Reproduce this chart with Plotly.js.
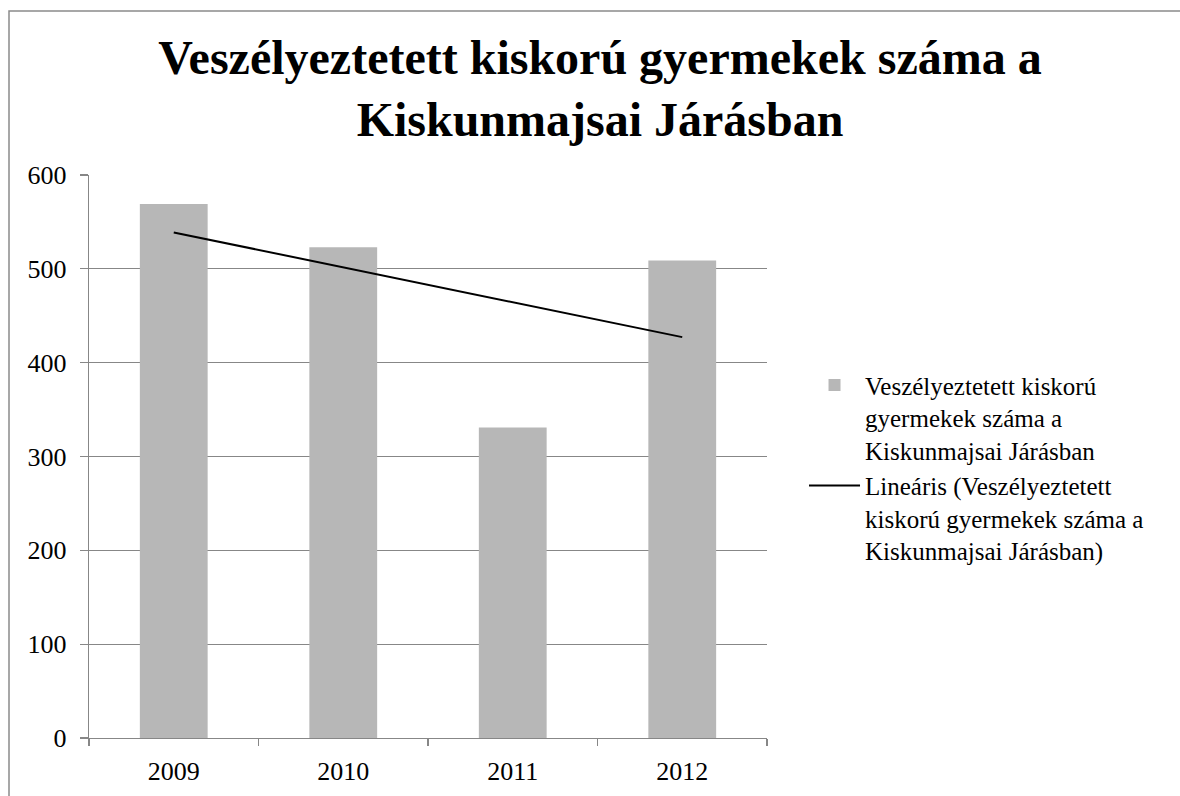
<!DOCTYPE html>
<html>
<head>
<meta charset="utf-8">
<script src="https://cdn.plot.ly/plotly-3.0.1.min.js"></script>
<style>
  html, body { margin: 0; padding: 0; background: #ffffff; }
  #chart { width: 1180px; height: 796px; }
</style>
</head>
<body>
<div id="chart"></div>
<script>
// ---- Data ----
var years = ['2009', '2010', '2011', '2012'];
var children = [569, 523, 331, 509];
var seriesName = 'Veszélyeztetett kiskorú<br>gyermekek száma a<br>Kiskunmajsai Járásban';
var trendName = 'Lineáris (Veszélyeztetett<br>kiskorú gyermekek száma a<br>Kiskunmajsai Járásban)';
var titleText = 'Veszélyeztetett kiskorú gyermekek száma a<br>Kiskunmajsai Járásban';
var yTicks = [0, 100, 200, 300, 400, 500, 600];

// Linear trendline (least squares on the series, as the spreadsheet does)
var n = children.length;
var xs = children.map(function (_, i) { return i + 1; });
var mx = xs.reduce(function (a, b) { return a + b; }, 0) / n;
var my = children.reduce(function (a, b) { return a + b; }, 0) / n;
var sxy = 0, sxx = 0;
for (var i = 0; i < n; i++) { sxy += (xs[i] - mx) * (children[i] - my); sxx += (xs[i] - mx) * (xs[i] - mx); }
var slope = sxy / sxx, intercept = my - slope * mx;
var trend = xs.map(function (x) { return intercept + slope * x; });

var font = '"Liberation Serif", "Times New Roman", serif';
var grey = '#878787';

var traces = [
  {
    type: 'bar', x: years, y: children, name: seriesName,
    marker: { color: '#b7b7b7', line: { width: 0 } },
    width: 0.4, hoverinfo: 'x+y'
  },
  {
    type: 'scatter', mode: 'lines', x: years, y: trend, name: trendName,
    line: { color: '#000000', width: 2 }
  }
];

var layout = {
  width: 1180, height: 796,
  paper_bgcolor: '#ffffff', plot_bgcolor: '#ffffff',
  margin: { l: 89, r: 413, t: 175, b: 58, pad: 0 },
  font: { family: font, size: 26, color: '#000000' },
  title: {
    text: titleText,
    font: { family: font, size: 48, color: '#000000', weight: 'bold' },
    x: 0.5085, xanchor: 'center', xref: 'container',
    y: 1 - 74 / 796, yanchor: 'middle', yref: 'container'
  },
  showlegend: true,
  legend: {
    x: 1.0546, xanchor: 'left', y: 0.48, yanchor: 'middle',
    font: { family: font, size: 25, color: '#000000' },
    valign: 'top', tracegroupgap: 0, itemwidth: 51,
    bgcolor: 'rgba(0,0,0,0)', borderwidth: 0
  },
  xaxis: {
    type: 'category', showline: true, linecolor: grey, linewidth: 1.3,
    ticks: 'outside', tickson: 'boundaries', ticklen: 7, tickcolor: grey, tickwidth: 1.3,
    showgrid: false, zeroline: false,
    tickfont: { family: font, size: 26, color: '#000000' },
    ticklabelstandoff: 9
  },
  yaxis: {
    range: [0, 600], tickvals: yTicks, showline: true, linecolor: grey, linewidth: 1.3,
    ticks: 'outside', ticklen: 8, tickcolor: grey, tickwidth: 1.3,
    showgrid: true, gridcolor: grey, gridwidth: 1.3, zeroline: false,
    tickfont: { family: font, size: 26, color: '#000000' },
    ticklabelstandoff: 8
  },
  shapes: [
    {
      type: 'rect', xref: 'paper', yref: 'paper',
      x0: (9 - 89) / 678, x1: 1.9, y0: -0.3, y1: (738 - 11) / 563,
      line: { color: '#8a8a8a', width: 1.5 }, fillcolor: 'rgba(0,0,0,0)', layer: 'below'
    }
  ]
};

Plotly.newPlot('chart', traces, layout, { staticPlot: true, displayModeBar: false });
</script>
</body>
</html>
